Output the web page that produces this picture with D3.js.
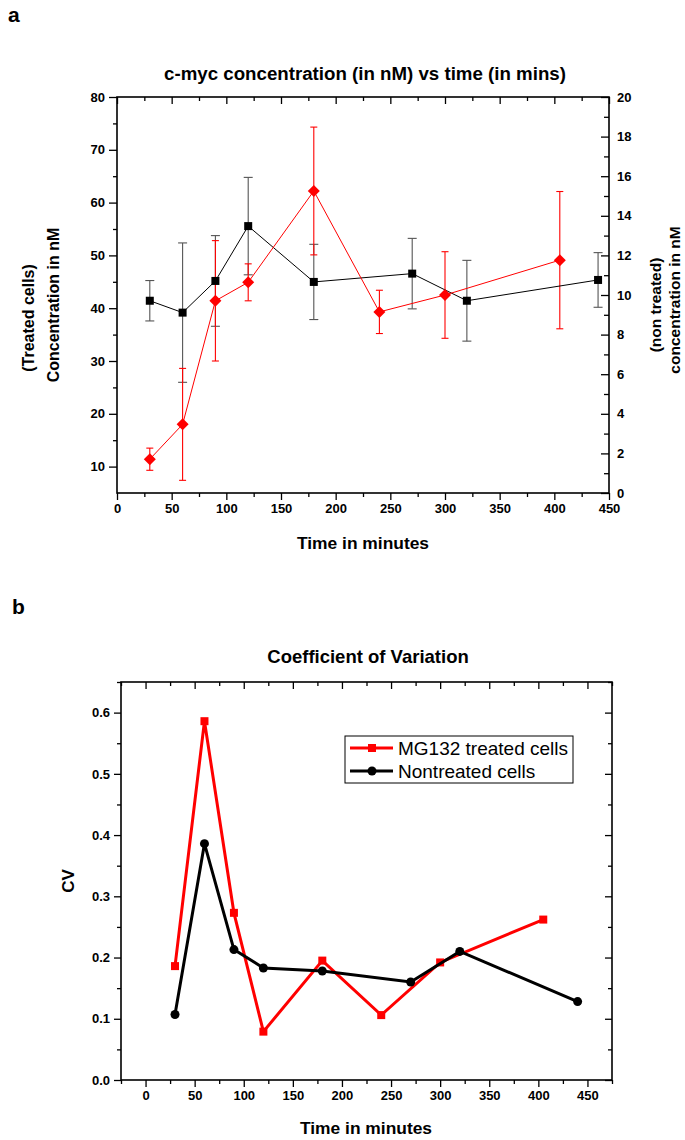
<!DOCTYPE html>
<html><head><meta charset="utf-8">
<script src="https://cdn.jsdelivr.net/npm/d3@7"></script>
<style>
body{margin:0;background:#fff;}
svg{display:block;font-family:"Liberation Sans",Arial,sans-serif;}
.tick text{font-weight:bold;font-size:13px;font-family:"Liberation Sans",Arial,sans-serif;fill:#000;}
.tick line{stroke:#000;stroke-width:1.3;}
</style></head>
<body><svg id="c" width="685" height="1140"></svg>
<script>
// ---- data ----
const treatedTime = [30, 60, 90, 120, 180, 240, 300, 405];
const treatedConc = [11.4, 18.0, 41.4, 44.9, 62.2, 39.3, 42.5, 49.1];
const treatedErr  = [2.1, 10.6, 11.4, 3.5, 12.1, 4.1, 8.2, 13.0];
const nonTime = [30, 60, 90, 120, 180, 270, 320, 440];
const nonConc = [9.71, 9.11, 10.71, 13.48, 10.66, 11.08, 9.71, 10.76];
const nonErr  = [1.02, 3.52, 2.29, 2.46, 1.90, 1.78, 2.04, 1.38];
const cvTreated = [0.186, 0.586, 0.273, 0.079, 0.195, 0.106, 0.192, 0.262];
const cvNon     = [0.107, 0.386, 0.213, 0.183, 0.178, 0.160, 0.210, 0.128];
const xTicksA = [0, 50, 100, 150, 200, 250, 300, 350, 400, 450];
const yLeftTicksA = [10, 20, 30, 40, 50, 60, 70, 80];
const yRightTicksA = [0, 2, 4, 6, 8, 10, 12, 14, 16, 18, 20];
const xTicksB = [0, 50, 100, 150, 200, 250, 300, 350, 400, 450];
const yTicksB = [0, 0.1, 0.2, 0.3, 0.4, 0.5, 0.6];
const legendLabels = ["MG132 treated cells", "Nontreated cells"];

const svg = d3.select("#c");
const RED = "#ff0000";

function txt(x, y, s, size, opts = {}) {
  const t = svg.append("text").attr("x", x).attr("y", y).text(s)
    .attr("font-size", size).attr("font-weight", opts.weight || "bold")
    .attr("text-anchor", opts.anchor || "middle").attr("fill", "#000");
  if (opts.rotate) t.attr("transform", `rotate(-90,${x},${y})`);
  return t;
}
function range(a, b, s) { const r = []; for (let v = a; v <= b + 1e-9; v += s) r.push(+v.toFixed(4)); return r; }

// ================= Chart a =================
const xA = d3.scaleLinear().domain([0, 450]).range([117, 609]);
const yL = d3.scaleLinear().domain([5, 80]).range([493, 97]);
const yR = d3.scaleLinear().domain([0, 20]).range([493, 97]);

const gA = svg.append("g");
gA.append("g").attr("transform", "translate(0,493)")
  .call(d3.axisBottom(xA).tickValues(range(25, 425, 50)).tickSize(4).tickFormat("").tickSizeOuter(0));
gA.append("g").attr("transform", "translate(0,493)")
  .call(d3.axisBottom(xA).tickValues(xTicksA).tickSize(7).tickPadding(4).tickSizeOuter(0));
gA.append("g").attr("transform", "translate(0,97)")
  .call(d3.axisTop(xA).tickValues(range(25, 425, 50)).tickSize(-4).tickFormat("").tickSizeOuter(0));
gA.append("g").attr("transform", "translate(0,97)")
  .call(d3.axisTop(xA).tickValues(xTicksA).tickSize(-7).tickFormat("").tickSizeOuter(0));
gA.append("g").attr("transform", "translate(117,0)")
  .call(d3.axisLeft(yL).tickValues(range(15, 75, 10)).tickSize(4).tickFormat("").tickSizeOuter(0));
gA.append("g").attr("transform", "translate(117,0)")
  .call(d3.axisLeft(yL).tickValues(yLeftTicksA).tickSize(8).tickPadding(4).tickSizeOuter(0));
gA.append("g").attr("transform", "translate(609,0)")
  .call(d3.axisRight(yR).tickValues(range(1, 19, 2)).tickSize(-5).tickFormat("").tickSizeOuter(0));
gA.append("g").attr("transform", "translate(609,0)")
  .call(d3.axisRight(yR).tickValues(yRightTicksA).tickSize(-8).tickPadding(8).tickSizeOuter(0));
gA.selectAll(".domain").remove();
gA.append("rect").attr("x", 117).attr("y", 97).attr("width", 609 - 117).attr("height", 493 - 97)
  .attr("fill", "none").attr("stroke", "#000").attr("stroke-width", 1.6);

const nonData = nonTime.map((t, i) => ({ t, v: nonConc[i], e: nonErr[i] }));
const trData = treatedTime.map((t, i) => ({ t, v: treatedConc[i], e: treatedErr[i] }));

function errBars(g, data, ys, color, cap) {
  const eb = g.append("g").attr("stroke", color).attr("stroke-width", 1.1);
  data.forEach(d => {
    const x = xA(d.t), y1 = ys(d.v + d.e), y2 = ys(d.v - d.e);
    eb.append("line").attr("x1", x).attr("x2", x).attr("y1", y1).attr("y2", y2);
    eb.append("line").attr("x1", x - cap).attr("x2", x + cap).attr("y1", y1).attr("y2", y1);
    eb.append("line").attr("x1", x - cap).attr("x2", x + cap).attr("y1", y2).attr("y2", y2);
  });
}
errBars(gA, nonData, yR, "#555", 4.5);
errBars(gA, trData, yL, RED, 3.5);

gA.append("path").datum(nonData).attr("fill", "none").attr("stroke", "#000").attr("stroke-width", 1)
  .attr("d", d3.line().x(d => xA(d.t)).y(d => yR(d.v)));
gA.append("path").datum(trData).attr("fill", "none").attr("stroke", RED).attr("stroke-width", 1)
  .attr("d", d3.line().x(d => xA(d.t)).y(d => yL(d.v)));

gA.selectAll(".sq").data(nonData).join("rect")
  .attr("x", d => xA(d.t) - 4).attr("y", d => yR(d.v) - 4).attr("width", 8).attr("height", 8).attr("fill", "#000");
gA.selectAll(".dm").data(trData).join("path")
  .attr("d", d => { const x = xA(d.t), y = yL(d.v), r = 6; return `M${x},${y - r}L${x + r},${y}L${x},${y + r}L${x - r},${y}Z`; })
  .attr("fill", RED);

txt(8, 22, "a", 21, { anchor: "start" });
txt(365, 80, "c-myc concentration (in nM) vs time (in mins)", 18.7);
txt(363, 549, "Time in minutes", 17.4);
txt(34, 318, "(Treated cells)", 16, { rotate: true });
txt(59, 305, "Concentration in nM", 16, { rotate: true });
txt(661, 305, "(non treated)", 15.5, { rotate: true });
txt(680, 300, "concentration in nM", 15.5, { rotate: true });

// ================= Chart b =================
const xB = d3.scaleLinear().domain([-25, 475]).range([121, 612]);
const yB = d3.scaleLinear().domain([0, 0.65]).range([1080, 682]);
const gB = svg.append("g");
gB.append("g").attr("transform", "translate(0,1080)")
  .call(d3.axisBottom(xB).tickValues(range(-25, 475, 50)).tickSize(4).tickFormat("").tickSizeOuter(0));
gB.append("g").attr("transform", "translate(0,1080)")
  .call(d3.axisBottom(xB).tickValues(xTicksB).tickSize(7).tickPadding(4).tickSizeOuter(0));
gB.append("g").attr("transform", "translate(0,682)")
  .call(d3.axisTop(xB).tickValues(range(-25, 475, 50)).tickSize(-4).tickFormat("").tickSizeOuter(0));
gB.append("g").attr("transform", "translate(0,682)")
  .call(d3.axisTop(xB).tickValues(xTicksB).tickSize(-7).tickFormat("").tickSizeOuter(0));
gB.append("g").attr("transform", "translate(121,0)")
  .call(d3.axisLeft(yB).tickValues(range(0.05, 0.65, 0.1)).tickSize(4).tickFormat("").tickSizeOuter(0));
gB.append("g").attr("transform", "translate(121,0)")
  .call(d3.axisLeft(yB).tickValues(yTicksB).tickSize(7).tickPadding(4).tickFormat(d3.format(".1f")).tickSizeOuter(0));
gB.append("g").attr("transform", "translate(612,0)")
  .call(d3.axisRight(yB).tickValues(range(0.05, 0.65, 0.1)).tickSize(-4).tickFormat("").tickSizeOuter(0));
gB.append("g").attr("transform", "translate(612,0)")
  .call(d3.axisRight(yB).tickValues(yTicksB).tickSize(-7).tickFormat("").tickSizeOuter(0));
gB.selectAll(".domain").remove();
gB.append("rect").attr("x", 121).attr("y", 682).attr("width", 612 - 121).attr("height", 1080 - 682)
  .attr("fill", "none").attr("stroke", "#000").attr("stroke-width", 1.6);

const cvT = treatedTime.map((t, i) => ({ t, v: cvTreated[i] }));
const cvN = nonTime.map((t, i) => ({ t, v: cvNon[i] }));
const lineB = d3.line().x(d => xB(d.t)).y(d => yB(d.v));
gB.append("path").datum(cvT).attr("fill", "none").attr("stroke", RED).attr("stroke-width", 3).attr("d", lineB);
gB.selectAll(".rs").data(cvT).join("rect")
  .attr("x", d => xB(d.t) - 4).attr("y", d => yB(d.v) - 4).attr("width", 8).attr("height", 8).attr("fill", RED);
gB.append("path").datum(cvN).attr("fill", "none").attr("stroke", "#000").attr("stroke-width", 3).attr("d", lineB);
gB.selectAll(".bc").data(cvN).join("circle")
  .attr("cx", d => xB(d.t)).attr("cy", d => yB(d.v)).attr("r", 4.5).attr("fill", "#000");

const lg = gB.append("g");
lg.append("rect").attr("x", 345).attr("y", 736).attr("width", 228).attr("height", 47)
  .attr("fill", "#fff").attr("stroke", "#000").attr("stroke-width", 1);
[[RED, 748], ["#000", 771]].forEach(([c, y], i) => {
  lg.append("line").attr("x1", 350).attr("x2", 393).attr("y1", y).attr("y2", y).attr("stroke", c).attr("stroke-width", 3);
  if (i === 0) lg.append("rect").attr("x", 368).attr("y", y - 4).attr("width", 8).attr("height", 8).attr("fill", c);
  else lg.append("circle").attr("cx", 372).attr("cy", y).attr("r", 4.5).attr("fill", c);
  lg.append("text").attr("x", 398).attr("y", y + 7).text(legendLabels[i]).attr("font-size", 19).attr("fill", "#000");
});

txt(12, 614, "b", 21, { anchor: "start" });
txt(368, 663, "Coefficient of Variation", 18.5);
txt(74, 881, "CV", 17, { rotate: true });
txt(366, 1134, "Time in minutes", 17.4);
</script></body></html>
